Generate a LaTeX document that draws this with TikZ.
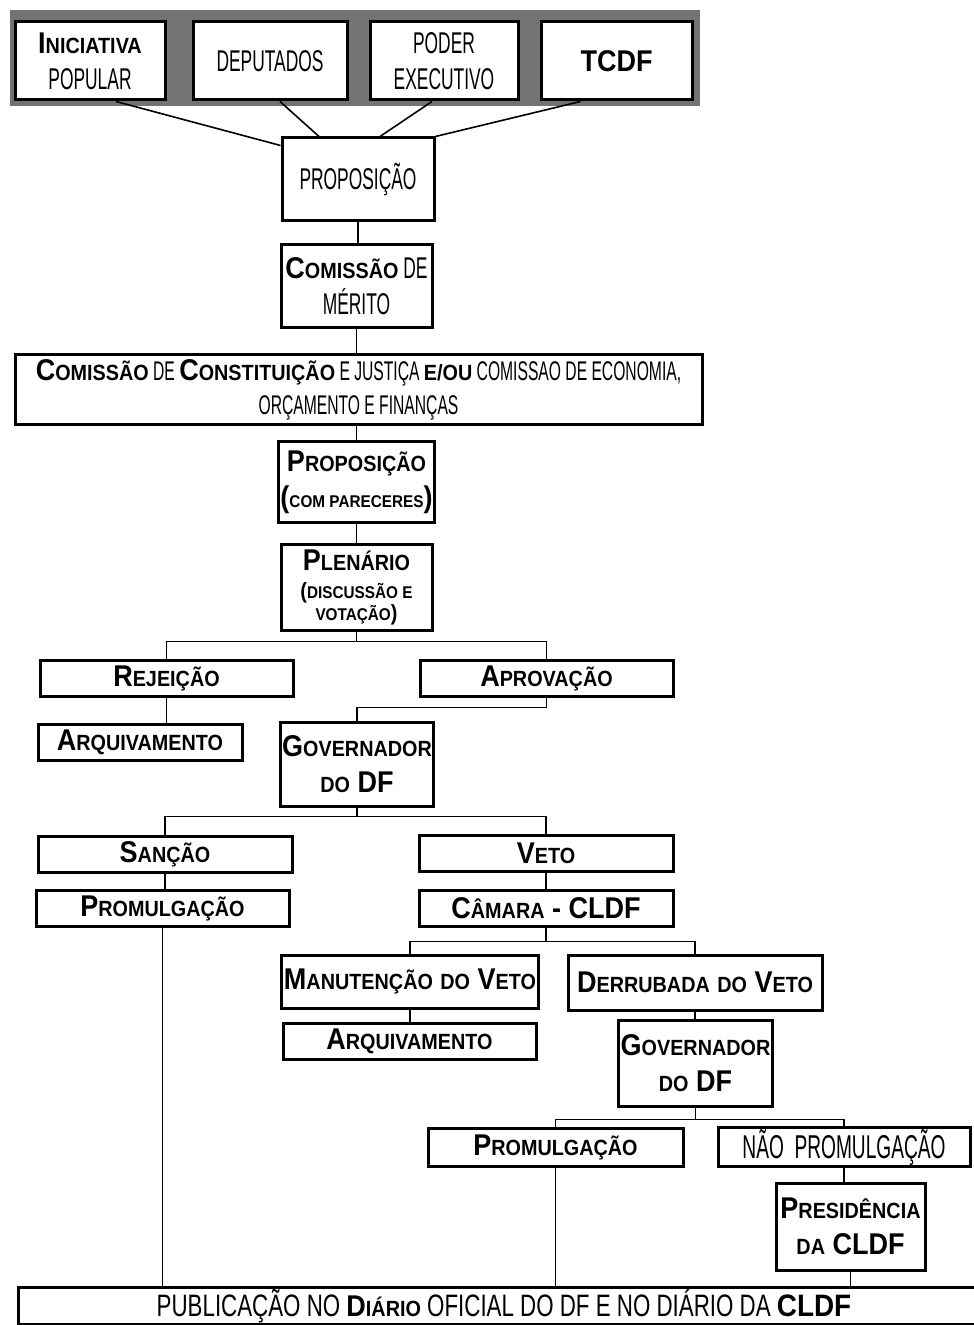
\documentclass[tikz,border=0pt]{standalone}
\usepackage{fontspec}
\setmainfont{Liberation Sans}[FakeStretch=0.58]
\newfontfamily\grosso{Liberation Sans}[FakeStretch=0.9]
\newfontfamily\largo{Liberation Sans}[FakeStretch=0.72]
\usepackage{tikz}
\newcommand\negr[1]{{\grosso\bfseries #1}}
\newcommand\vers[2]{{\fontsize{15}{18}\selectfont #1}{\fontsize{11}{18}\selectfont #2}}
\newcommand\pq[1]{{\fontsize{11}{18}\selectfont #1}}
\newcommand\mi[1]{{\fontsize{8.5}{11}\selectfont #1}}

\begin{document}
\begin{tikzpicture}[x=0.5pt,y=-0.5pt,
	caixa/.style={draw,line width=1.5pt,fill=white,align=center,inner sep=1pt,font=\fontsize{15}{18}\selectfont},
	liga/.style={line width=0.8pt}]
			\useasboundingbox (0,0) rectangle (973,1325);
			\fill[black!55] (10,10) rectangle (700,106);
			\node[caixa,minimum width=75pt,minimum height=39pt] (inic) at (90,61) {\negr{\vers{I}{NICIATIVA}}\\POPULAR};
			\node[caixa,minimum width=77pt,minimum height=39pt] (dep) at (270,61) {DEPUTADOS};
			\node[caixa,minimum width=74pt,minimum height=39pt] (pod) at (444,61) {PODER\\EXECUTIVO};
			\node[caixa,minimum width=75.5pt,minimum height=39pt] (tcdf) at (616.5,61) {\negr{TCDF}};
			\node[caixa,minimum width=76pt,minimum height=41.5pt] (prop) at (358,179.5) {PROPOSIÇÃO};
			\node[caixa,minimum width=75.5pt,minimum height=41.5pt] (mer) at (356.5,286.5) {\negr{\vers{C}{OMISSÃO}} DE\\MÉRITO};
			\node[caixa,minimum width=343.5pt,minimum height=35pt,font=\fontsize{13.5}{17}\selectfont] (ccj) at (358.5,390) {\negr{\vers{C}{OMISSÃO}} DE \negr{\vers{C}{ONSTITUIÇÃO}} E JUSTIÇA \negr{\pq{E/OU}} COMISSAO DE ECONOMIA,\\ORÇAMENTO E FINANÇAS};
			\node[caixa,minimum width=75.5pt,minimum height=40pt] (pare) at (356.5,482) {\negr{\vers{P}{ROPOSIÇÃO}}\\\negr{(\mi{COM PARECERES})}};
			\node[caixa,minimum width=75.5pt,minimum height=43pt,font=\fontsize{15}{14}\selectfont] (plen) at (356.5,587) {\negr{\vers{P}{LENÁRIO}}\\\negr{\pq{(}\mi{DISCUSSÃO E}}\\[-3pt]\negr{\mi{VOTAÇÃO}\pq{)}}};
			\node[caixa,minimum width=126.5pt,minimum height=18pt] (rej) at (166.5,678) {\negr{\vers{R}{EJEIÇÃO}}};
			\node[caixa,minimum width=126.5pt,minimum height=18pt] (apr) at (546.5,678) {\negr{\vers{A}{PROVAÇÃO}}};
			\node[caixa,minimum width=102pt,minimum height=18pt] (arq) at (140,742) {\negr{\vers{A}{RQUIVAMENTO}}};
			\node[caixa,minimum width=75pt,minimum height=42pt] (gov) at (357,764) {\negr{\vers{G}{OVERNADOR}}\\\negr{\pq{DO} DF}};
			\node[caixa,minimum width=127pt,minimum height=18pt] (san) at (165,854) {\negr{\vers{S}{ANÇÃO}}};
			\node[caixa,minimum width=127pt,minimum height=18pt] (veto) at (546,853) {\negr{\vers{V}{ETO}}};
			\node[caixa,minimum width=126.5pt,minimum height=18pt] (prom) at (162.5,908) {\negr{\vers{P}{ROMULGAÇÃO}}};
			\node[caixa,minimum width=127pt,minimum height=18pt] (cam) at (546,908) {\negr{\vers{C}{ÂMARA} - CLDF}};
			\node[caixa,minimum width=127pt,minimum height=26.5pt] (man) at (410,981.5) {\negr{\vers{M}{ANUTENÇÃO} \pq{DO} \vers{V}{ETO}}};
			\node[caixa,minimum width=127pt,minimum height=27.5pt] (der) at (695,982.5) {\negr{\vers{D}{ERRUBADA} \pq{DO} \vers{V}{ETO}}};
			\node[caixa,minimum width=126.5pt,minimum height=18pt] (arqb) at (409.5,1041) {\negr{\vers{A}{RQUIVAMENTO}}};
			\node[caixa,minimum width=74.5pt,minimum height=43pt] (govb) at (695.5,1063) {\negr{\vers{G}{OVERNADOR}}\\\negr{\pq{DO} DF}};
			\node[caixa,minimum width=127.5pt,minimum height=19pt] (promb) at (555.5,1147) {\negr{\vers{P}{ROMULGAÇÃO}}};
			\node[caixa,minimum width=126pt,minimum height=19pt,font=\fontsize{16.5}{18}\selectfont] (nao) at (844,1147) {NÃO\ \ PROMULGAÇÃO};
			\node[caixa,minimum width=74.5pt,minimum height=43.5pt] (pres) at (850.5,1226.5) {\negr{\vers{P}{RESIDÊNCIA}}\\\negr{\pq{DA} CLDF}};
			\node[caixa,minimum width=486pt,minimum height=16pt,font=\largo\fontsize{15.5}{17}\selectfont] (pub) at (504,1306) {PUBLICAÇÃO NO \negr{\vers{D}{IÁRIO}} OFICIAL DO DF E NO DIÁRIO DA \negr{CLDF}};
			\draw[liga] ([xshift=13pt]inic.south) -- ([yshift=-4.5pt]prop.north west);
			\draw[liga] ([xshift=5pt]dep.south) -- ([xshift=-19.5pt]prop.north);
			\draw[liga] ([xshift=-6pt]pod.south) -- ([xshift=11pt]prop.north);
			\draw[liga] ([xshift=-18pt]tcdf.south) -- (prop.north east);
			\draw[liga] (prop.south) -- (prop.south |- mer.north);
			\draw[liga] (mer.south) -- (mer.south |- ccj.north);
			\draw[liga] (ccj.south -| pare.north) -- (pare.north);
			\draw[liga] (pare.south) -- (pare.south |- plen.north);
			\draw[liga] (plen.south) -- ++(0,10) -| (rej.north);
			\draw[liga] (plen.south) -- ++(0,10) -| (apr.north);
			\draw[liga] (rej.south) -- (rej.south |- arq.north);
			\draw[liga] (apr.south) -- ++(0,10) -| (gov.north);
			\draw[liga] (gov.south) -- ++(0,9) -| (san.north);
			\draw[liga] (gov.south) -- ++(0,9) -| (veto.north);
			\draw[liga] (san.south) -- (san.south |- prom.north);
			\draw[liga] (veto.south) -- (veto.south |- cam.north);
			\draw[liga] (cam.south) -- ++(0,14) -| (man.north);
			\draw[liga] (cam.south) -- ++(0,14) -| (der.north);
			\draw[liga] (man.south) -- (man.south |- arqb.north);
			\draw[liga] (der.south) -- (der.south |- govb.north);
			\draw[liga] (govb.south) -- ++(0,12) -| (promb.north);
			\draw[liga] (govb.south) -- ++(0,12) -| (nao.north);
			\draw[liga] (nao.south) -- (nao.south |- pres.north);
			\draw[liga] (prom.south) -- (prom.south |- pub.north);
			\draw[liga] (promb.south) -- (promb.south |- pub.north);
			\draw[liga] (pres.south) -- (pres.south |- pub.north);
		\end{tikzpicture}
\end{document}
